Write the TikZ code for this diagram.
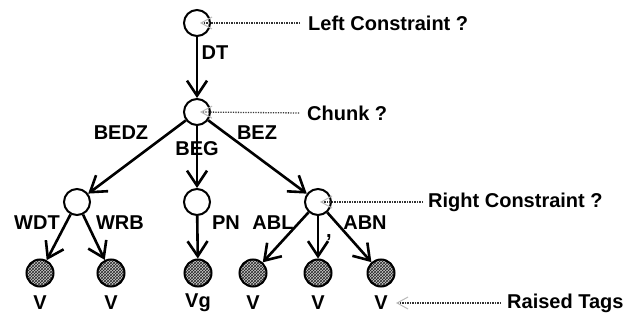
\documentclass[tikz,border=0pt]{standalone}
\usepackage{fontspec}
\setmainfont{Liberation Sans}
\usetikzlibrary{arrows.meta,patterns}
\begin{document}
\begin{tikzpicture}[x=1pt,y=-1pt,
  font=\fontsize{20}{24}\selectfont\bfseries,
  st/.style={circle,draw,line width=2pt,minimum size=26pt,inner sep=0pt,fill=white},
  leaf/.style={circle,draw,line width=2pt,minimum size=27pt,inner sep=0pt,
     preaction={fill=gray!40},pattern=crosshatch,pattern color=black!85},
  edge/.style={line width=2.6pt,-{Straight Barb[length=15pt,width=20pt,line width=2.6pt]}},
  hint/.style={dash pattern=on 1.2pt off 1.3pt,line width=1.3pt,black!80,
     -{Straight Barb[length=11pt,width=12pt,line width=1pt,gray!55]}},
  lab/.style={inner sep=0pt}]
\useasboundingbox (0,0) rectangle (631,320);
\node[st] (top) at (197,23) {};
\node[st] (ch) at (197,112) {};
\node[st] (l) at (77,202) {};
\node[st] (m) at (197,202) {};
\node[st] (r) at (318,202) {};
\node[leaf] (l1) at (40,273) {};
\node[leaf] (l2) at (111,273) {};
\node[leaf] (m1) at (198,273) {};
\node[leaf] (r1) at (253,273) {};
\node[leaf] (r2) at (318,273) {};
\node[leaf] (r3) at (381,273) {};
\draw[edge] (top) -- (ch);
\draw[edge] (ch) -- (l);
\draw[edge] (ch) -- (m);
\draw[edge] (ch) -- (r);
\draw[edge] (l) -- (l1);
\draw[edge] (l) -- (l2);
\draw[edge] (m) -- (m1);
\draw[edge] (r) -- (r1);
\draw[edge] (r) -- (r2);
\draw[edge] (r) -- (r3);
% edge labels
\node[lab] (dt) at (215,53) {DT};
\node[lab] (bedz) at (121,133) {BEDZ};
\node[lab] (beg) at (197,149) {BEG};
\node[lab] (bez) at (257,133) {BEZ};
\node[lab] (wdt) at (37,223) {WDT};
\node[lab] (wrb) at (120,223) {WRB};
\node[lab] (pn) at (226,223) {PN};
\node[lab] (abl) at (273,223) {ABL};
\node[lab] (abn) at (365,223) {ABN};
\node[lab] (cm) at (329,238) {,};
% leaf labels
\node[lab] (v1) at (40,303) {V};
\node[lab] (v2) at (111,303) {V};
\node[lab] (vg) at (198,303) {Vg};
\node[lab] (v4) at (253,303) {V};
\node[lab] (v5) at (318,303) {V};
\node[lab] (v6) at (381,303) {V};
% annotations
\node[lab,anchor=west] (lc) at (308,23) {Left Constraint ?};
\node[lab,anchor=west] (chq) at (307,113) {Chunk ?};
\node[lab,anchor=west] (rc) at (428,202) {Right Constraint ?};
\node[lab,anchor=west] (rt) at (507,303) {Raised Tags};
\coordinate (lct) at (200,23);
\coordinate (cht) at (200,112);
\coordinate (rct) at (320,202);
\coordinate (rtt) at (396,303);
\draw[hint] (lc.west) ++(-8,0) coordinate (a1) (a1) -- (lct);
\draw[hint] (chq.west) ++(-8,0) coordinate (a2) (a2) -- (cht);
\draw[hint] (rc.west) ++(-5,0) coordinate (a3) (a3) -- (rct);
\draw[hint] (rt.west) ++(-6,0) coordinate (a4) (a4) -- (rtt);
\end{tikzpicture}
\end{document}
